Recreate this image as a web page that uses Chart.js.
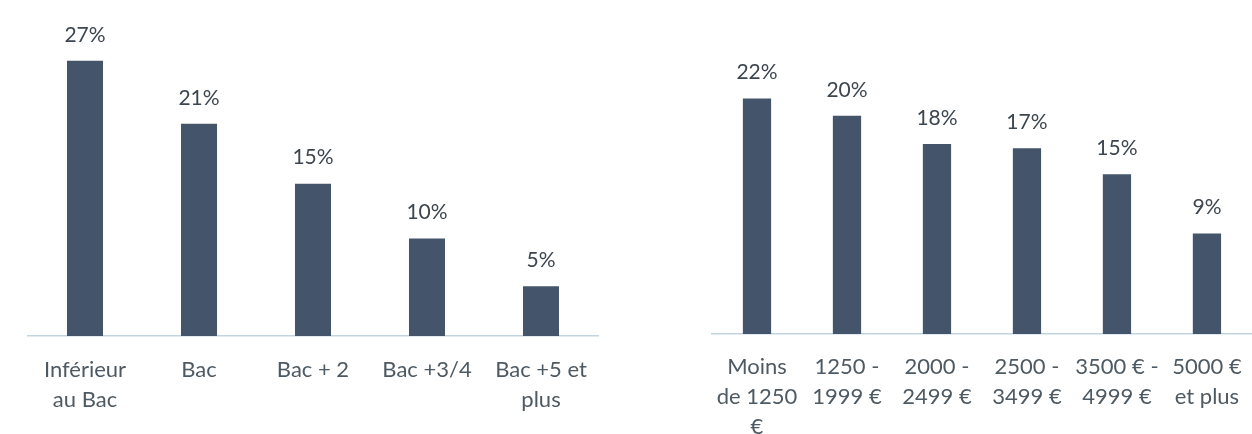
<!DOCTYPE html>
<html>
<head>
<meta charset="utf-8">
<script src="https://cdn.jsdelivr.net/npm/chart.js@4"></script>
</head>
<body style="margin:0;overflow:hidden;background:#fff">
<div style="position:relative;width:1252px;height:434px;overflow:hidden">
  <canvas id="diplome" width="620" height="434" style="position:absolute;left:0;top:0"></canvas>
  <canvas id="revenu" width="620" height="434" style="position:absolute;left:640px;top:0"></canvas>
</div>
<script>
// valeurs (en %)
const diplomeLabels = [['Inférieur', 'au Bac'], 'Bac', 'Bac + 2', 'Bac +3/4', ['Bac +5 et', 'plus']];
const diplomeValues = [27.1, 20.9, 15.0, 9.6, 4.9];

const revenuLabels = [['Moins', 'de 1250', '€'], ['1250 -', '1999 €'], ['2000 -', '2499 €'], ['2500 -', '3499 €'], ['3500 € -', '4999 €'], ['5000 €', 'et plus']];
const revenuValues = [21.8, 20.2, 17.6, 17.2, 14.8, 9.3];

const barColor = '#44546a';
const fontFamily = 'Lato, "Open Sans", sans-serif';

const valueLabels = {
  id: 'valueLabels',
  afterDatasetsDraw(chart) {
    const c = chart.ctx;
    const values = chart.data.datasets[0].data;
    c.save();
    c.font = '21px ' + fontFamily;
    c.fillStyle = '#3d4650';
    c.textAlign = 'center';
    c.textBaseline = 'middle';
    chart.getDatasetMeta(0).data.forEach((bar, i) => {
      c.fillText(Math.round(values[i]) + '%', bar.x, bar.y - 26);
    });
    c.restore();
  }
};

function makeChart(id, labels, values, opts) {
  return new Chart(document.getElementById(id), {
    type: 'bar',
    data: {
      labels: labels,
      datasets: [{
        data: values,
        backgroundColor: barColor,
        categoryPercentage: 1,
        barPercentage: opts.barPct
      }]
    },
    options: {
      responsive: false,
      animation: false,
      layout: { padding: { left: opts.left, right: opts.right, top: 10, bottom: 0 } },
      plugins: { legend: { display: false }, tooltip: { enabled: false } },
      scales: {
        x: {
          grid: { display: false, drawTicks: false },
          border: { display: true, color: '#c3d5e1', width: 1.5 },
          ticks: {
            autoSkip: false,
            maxRotation: 0,
            padding: opts.tickPad,
            color: '#4e5a63',
            font: { family: fontFamily, size: 22, lineHeight: 30 / 22 }
          },
          afterFit(scale) { scale.height = opts.axisH; }
        },
        y: { display: false, min: 0, max: opts.max }
      }
    },
    plugins: [valueLabels]
  });
}

makeChart('diplome', diplomeLabels, diplomeValues, { left: 28, right: 22, barPct: 0.316, axisH: 98, tickPad: 19, max: 32.1 });
makeChart('revenu', revenuLabels, revenuValues, { left: 72, right: 4, barPct: 0.314, axisH: 100, tickPad: 18, max: 30.0 });
</script>
</body>
</html>
